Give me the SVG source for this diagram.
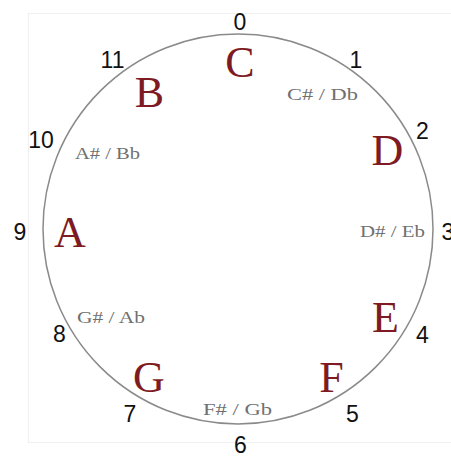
<svg xmlns="http://www.w3.org/2000/svg" width="451" height="456" viewBox="0 0 451 456">
<style>
.num{font-family:"Liberation Sans",Arial,sans-serif;font-size:23px;fill:#111;text-anchor:middle}
.note{font-family:"Liberation Serif","Times New Roman",serif;font-size:44px;fill:#7d1a22;text-anchor:middle}
.sharp{font-family:"Liberation Serif","Times New Roman",serif;font-size:17px;fill:#707070;text-anchor:middle}
</style>
<rect x="0" y="0" width="451" height="456" fill="#fff"/>
<rect x="28.5" y="13.5" width="430" height="429" fill="#fff" stroke="#f0f0f0" stroke-width="1"/>
<g id="circle">
<circle cx="238" cy="229" r="195" fill="none" stroke="#8a8a8a" stroke-width="1.5"/>
</g>
<g id="n0"><text class="num" x="240" y="30">0</text><text class="note" x="240" y="77">C</text></g>
<g id="n1"><text class="num" x="356" y="68">1</text><text class="sharp" x="322.5" y="100" textLength="71" lengthAdjust="spacingAndGlyphs">C# / Db</text></g>
<g id="n2"><text class="num" x="422.5" y="139">2</text><text class="note" x="387.5" y="165">D</text></g>
<g id="n3"><text class="num" x="448" y="240">3</text><text class="sharp" x="392.5" y="237" textLength="65" lengthAdjust="spacingAndGlyphs">D# / Eb</text></g>
<g id="n4"><text class="num" x="422.5" y="343">4</text><text class="note" x="385.5" y="332">E</text></g>
<g id="n5"><text class="num" x="352.5" y="422">5</text><text class="note" x="331.5" y="392">F</text></g>
<g id="n6"><text class="num" x="240.5" y="453">6</text><text class="sharp" x="237.5" y="415" textLength="69" lengthAdjust="spacingAndGlyphs">F# / Gb</text></g>
<g id="n7"><text class="num" x="130" y="422">7</text><text class="note" x="149" y="392">G</text></g>
<g id="n8"><text class="num" x="59.5" y="342">8</text><text class="sharp" x="111" y="323" textLength="68" lengthAdjust="spacingAndGlyphs">G# / Ab</text></g>
<g id="n9"><text class="num" x="20" y="240">9</text><text class="note" x="70" y="247">A</text></g>
<g id="n10"><text class="num" x="41" y="148">10</text><text class="sharp" x="107.5" y="159" textLength="65" lengthAdjust="spacingAndGlyphs">A# / Bb</text></g>
<g id="n11"><text class="num" x="112.5" y="68">11</text><text class="note" x="149.5" y="107">B</text></g>
<g id="connectors"></g>
</svg>
